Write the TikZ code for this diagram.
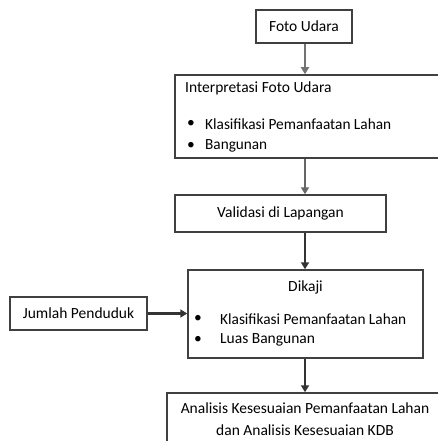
\documentclass[tikz,border=0pt]{standalone}
\usepackage{fontspec}
\setmainfont{Carlito}
\usetikzlibrary{arrows.meta}
\tikzset{
    kotak/.style = {draw=black!75, line width=1.5pt, fill=white, inner sep=0pt},
    teks/.style = {inner sep=0pt, font=\fontsize{15.5}{19}\selectfont},
    panah/.style = {draw=black!80, line width=2.2pt, -{Triangle[length=7pt,width=8pt]}},
}
\newcommand{\lebar}[2]{\resizebox{#1}{\height}{#2}}
\begin{document}
\begin{tikzpicture}[x=1pt, y=-1pt]
            \useasboundingbox (0,0) rectangle (438,441);
            \clip (0,0) rectangle (438,441);
            \fill[white] (0,0) rectangle (438,441);
            \coordinate (spine) at (305,0);

            \node[kotak, minimum width=96pt, minimum height=33pt] (foto) at (304,26.5) {};
            \node[teks] (fotoT) at (foto) {Foto Udara};

            \node[kotak, minimum width=270pt, minimum height=83pt] (interp) at (310,116.5) {};
            \node[teks, anchor=west] (interpT) at (185,88) {Interpretasi Foto Udara};
            \node[teks] (interpB1) at (191,124) {\textbullet};
            \node[teks, anchor=west] (interpL1) at (205,124) {\lebar{186pt}{Klasifikasi Pemanfaatan Lahan}};
            \node[teks] (interpB2) at (191,146) {\textbullet};
            \node[teks, anchor=west] (interpL2) at (205,146) {\lebar{62pt}{Bangunan}};

            \node[kotak, minimum width=211pt, minimum height=37pt] (valid) at (280.5,213.5) {};
            \node[teks] (validT) at (valid) {Validasi di Lapangan};

            \node[kotak, minimum width=235pt, minimum height=88pt] (kaji) at (305.5,314) {};
            \node[teks] (kajiT) at (305.5,287) {Dikaji};
            \node[teks] (kajiB1) at (198,319) {\textbullet};
            \node[teks, anchor=west] (kajiL1) at (220,319) {\lebar{186pt}{Klasifikasi Pemanfaatan Lahan}};
            \node[teks] (kajiB2) at (198,340) {\textbullet};
            \node[teks, anchor=west] (kajiL2) at (220,340) {Luas Bangunan};

            \node[kotak, minimum width=137pt, minimum height=33pt] (jumlah) at (78.5,313.5) {};
            \node[teks] (jumlahT) at (jumlah) {Jumlah Penduduk};

            \node[kotak, minimum width=283pt, minimum height=67pt] (analisis) at (308.5,426.5) {};
            \node[teks] (analisisT1) at (305,408) {Analisis Kesesuaian Pemanfaatan Lahan};
            \node[teks] (analisisT2) at (305,430) {dan Analisis Kesesuaian KDB};

            \draw[panah, draw=black!55] (foto.south -| spine) -- (interp.north -| spine);
            \draw[panah, draw=black!60] (interp.south -| spine) -- (valid.north -| spine);
            \draw[panah] (valid.south -| spine) -- (kaji.north -| spine);
            \draw[panah] (jumlah.east) -- (kaji.west |- jumlah.east);
            \draw[panah] (kaji.south -| spine) -- (analisis.north -| spine);
\end{tikzpicture}
\end{document}
